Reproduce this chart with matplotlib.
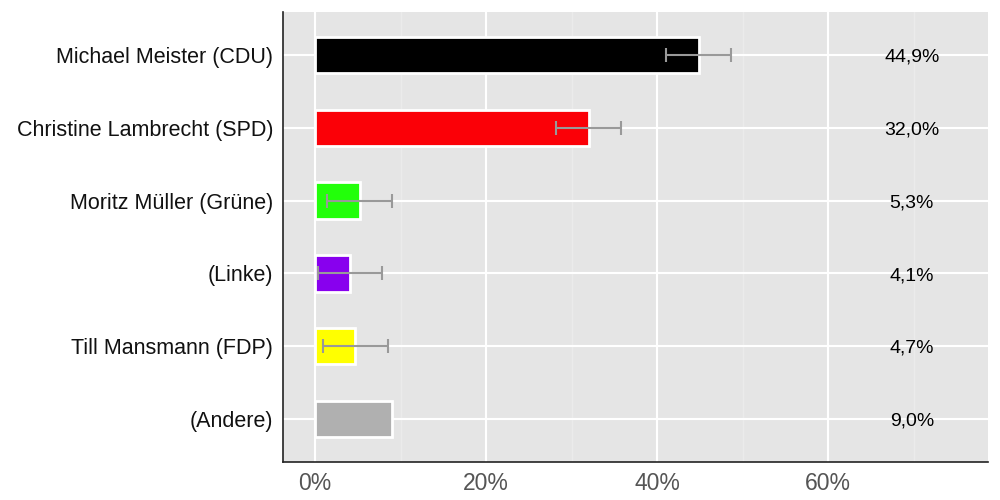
import numpy as np
import matplotlib
matplotlib.use("Agg")
import matplotlib.pyplot as plt
from matplotlib.ticker import MultipleLocator

candidates = ["Michael Meister (CDU)", "Christine Lambrecht (SPD)", "Moritz Müller (Grüne)",
              "(Linke)", "Till Mansmann (FDP)", "(Andere)"]
shares = [44.9, 32.0, 5.3, 4.1, 4.7, 9.0]
share_labels = ["44,9%", "32,0%", "5,3%", "4,1%", "4,7%", "9,0%"]
err_low = [41.1, 28.2, 1.4, 0.3, 0.9, np.nan]
err_high = [48.7, 35.8, 9.0, 7.8, 8.5, np.nan]
colors = ["#000000", "#fb0007", "#22ff0a", "#8800ee", "#ffff00", "#b0b0b0"]

plt.rcParams["font.family"] = ["Liberation Sans", "DejaVu Sans"]

fig = plt.figure(figsize=(10, 5), dpi=100)
ax = fig.add_axes([0.283, 0.076, 0.705, 0.9])
ax.set_facecolor("#e5e5e5")

y = np.arange(len(candidates))
ax.barh(y, shares, height=0.5, color=colors, edgecolor="white", linewidth=2, zorder=3)

for i in range(len(candidates)):
    if np.isnan(err_low[i]):
        continue
    mid = (err_low[i] + err_high[i]) / 2
    ax.errorbar(mid, y[i], xerr=(err_high[i] - err_low[i]) / 2, fmt="none",
                ecolor="#999999", elinewidth=1.5, capsize=5, capthick=1.5, zorder=4)

for i, lab in enumerate(share_labels):
    ax.text(69.8, y[i] + 0.03, lab, ha="center", va="center", fontsize=14, color="black", zorder=5)

ax.set_xlim(-3.75, 78.7)
ax.set_ylim(len(candidates) - 0.41, -0.59)
ax.set_yticks(y)
ax.set_yticklabels(candidates, fontsize=15.5, color="#111111")
ax.xaxis.set_minor_locator(MultipleLocator(10))
ax.set_xticks([0, 20, 40, 60])
ax.set_xticklabels(["0%", "20%", "40%", "60%"], fontsize=16.5, color="#555555")
ax.tick_params(axis="y", length=0, pad=7)
ax.tick_params(axis="x", length=0, pad=7)
ax.tick_params(axis="x", which="minor", length=0)

ax.grid(True, which="major", color="white", linewidth=1.5, zorder=0)
ax.grid(True, which="minor", axis="x", color="#ebebeb", linewidth=1, zorder=0)
ax.set_axisbelow(True)

for side in ["top", "right"]:
    ax.spines[side].set_visible(False)
for side in ["left", "bottom"]:
    ax.spines[side].set_color("#222222")
    ax.spines[side].set_linewidth(1.2)

fig.savefig("out.png", dpi=100)
